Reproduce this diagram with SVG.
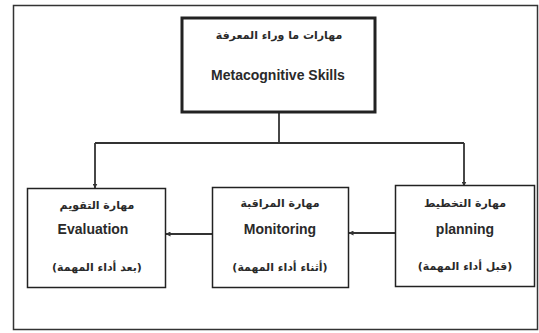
<svg xmlns="http://www.w3.org/2000/svg" width="539" height="333" viewBox="0 0 539 333">
<style>
.box{fill:#fff;stroke:#222;stroke-width:1.5}
.top{fill:#fff;stroke:#222;stroke-width:3}
.en{font-family:"Liberation Sans",Arial,sans-serif;font-size:14px;font-weight:bold;fill:#2a2a2a;text-anchor:middle}
.ar{font-family:"DejaVu Sans","Noto Sans",sans-serif;font-size:11px;font-weight:bold;fill:#2a2a2a;text-anchor:middle}
.ln{fill:none;stroke:#333;stroke-width:1.8}
</style>
<defs>
<marker id="ah" viewBox="0 0 10 10" refX="9" refY="5" markerWidth="5" markerHeight="5" orient="auto" markerUnits="userSpaceOnUse">
<path d="M0,0 L10,5 L0,10 z" fill="#333"/>
</marker>
</defs>
<rect x="0" y="0" width="539" height="333" fill="#fff"/>
<rect x="13.5" y="5.5" width="524" height="324" fill="none" stroke="#333" stroke-width="1.5"/>
<g id="connectors">
<polyline class="ln" points="279,112 279,143"/>
<polyline class="ln" points="95,143 464,143"/>
<polyline class="ln" points="95,143 95,188" marker-end="url(#ah)"/>
<polyline class="ln" points="464,143 464,186" marker-end="url(#ah)"/>
<polyline class="ln" points="395,233 349,233" marker-end="url(#ah)"/>
<polyline class="ln" points="212,234 166,234" marker-end="url(#ah)"/>
</g>
<g id="node-metacognitive">
<rect class="top" x="182" y="18" width="193" height="94"/>
<text class="ar" x="279" y="39" direction="rtl">مهارات ما وراء المعرفة</text>
<text class="en" x="278" y="80">Metacognitive Skills</text>
</g>
<g id="node-evaluation">
<rect class="box" x="27.5" y="188.5" width="138" height="99"/>
<text class="ar" x="97" y="209" direction="rtl">مهارة التقويم</text>
<text class="en" x="93" y="234">Evaluation</text>
<text class="ar" x="97" y="271" direction="rtl">(بعد أداء المهمة)</text>
</g>
<g id="node-monitoring">
<rect class="box" x="212.5" y="187.5" width="136" height="100"/>
<text class="ar" x="280" y="207" direction="rtl">مهارة المراقبة</text>
<text class="en" x="280" y="234">Monitoring</text>
<text class="ar" x="280" y="271" direction="rtl">(أثناء أداء المهمة)</text>
</g>
<g id="node-planning">
<rect class="box" x="395.5" y="185.5" width="139" height="101"/>
<text class="ar" x="465" y="207" direction="rtl">مهارة التخطيط</text>
<text class="en" x="465" y="234">planning</text>
<text class="ar" x="465" y="270" direction="rtl">(قبل أداء المهمة)</text>
</g>
</svg>
